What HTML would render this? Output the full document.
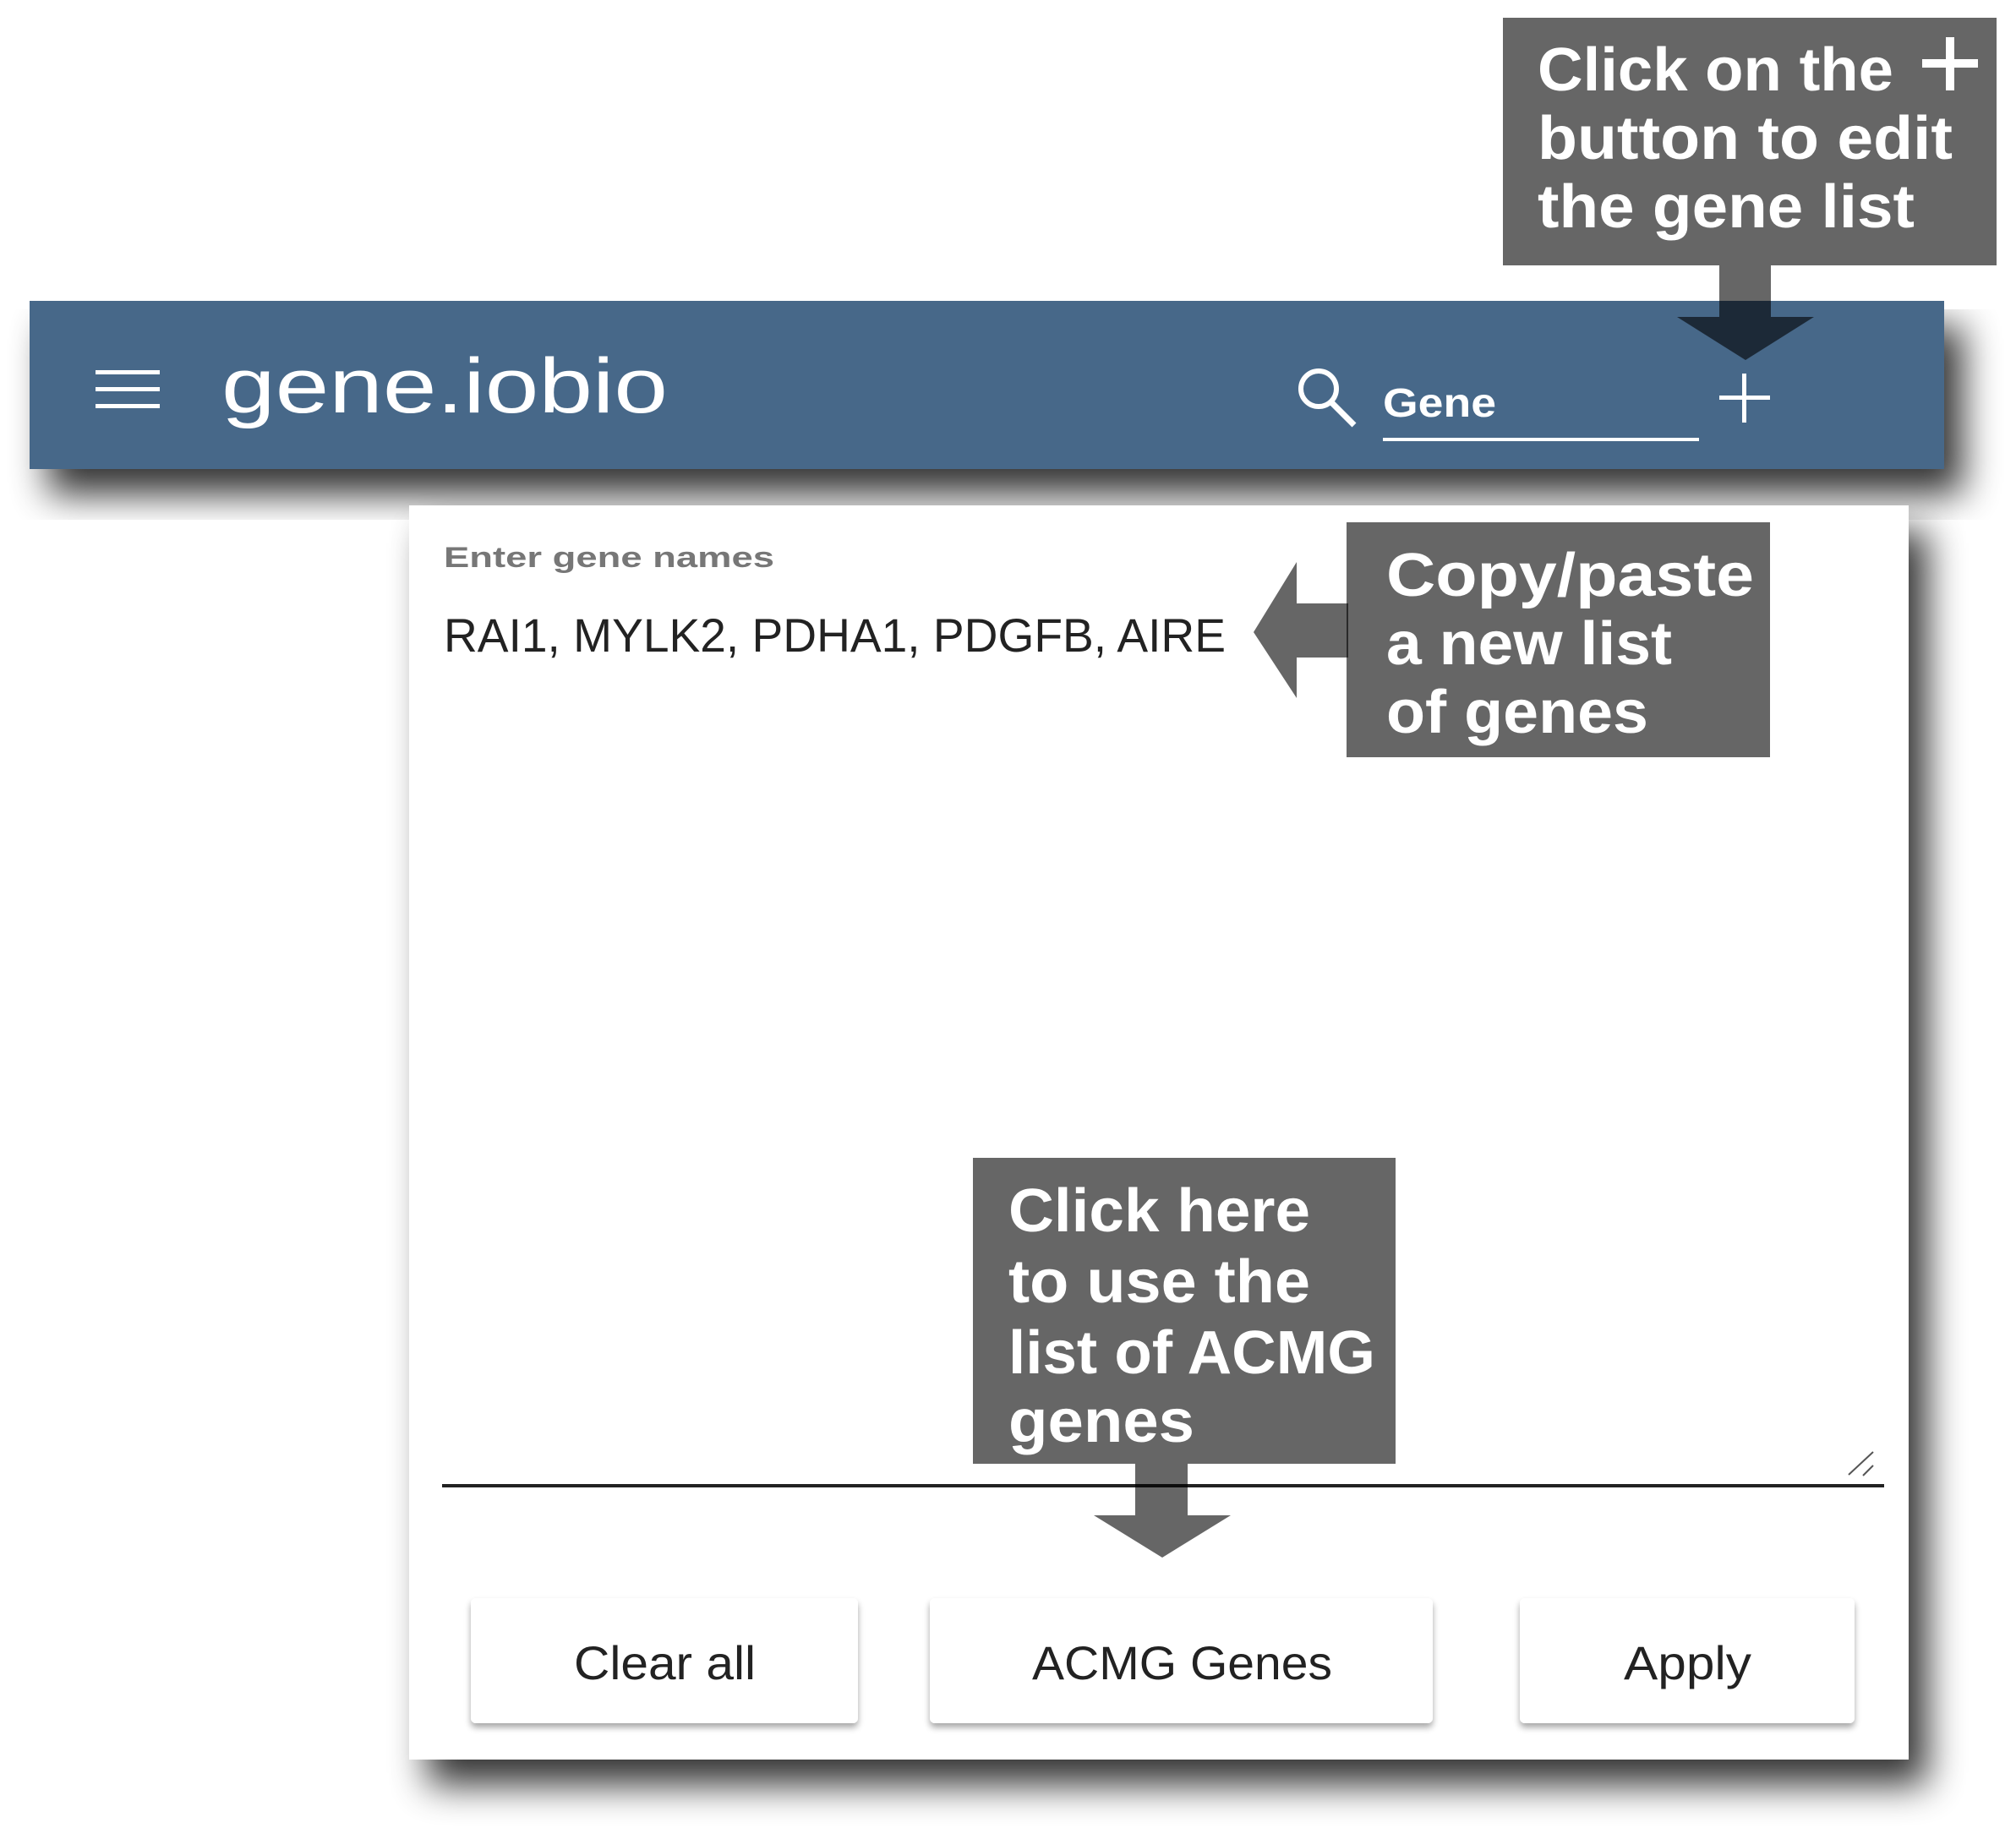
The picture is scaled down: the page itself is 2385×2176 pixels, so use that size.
<!DOCTYPE html>
<html><head><meta charset="utf-8"><style>html,body{margin:0;padding:0;background:#fff}svg{display:block}</style></head>
<body>
<svg width="2385" height="2176" viewBox="0 0 2385 2176" xmlns="http://www.w3.org/2000/svg" font-family="Liberation Sans, sans-serif">
<defs>
<filter id="sh" x="-10%" y="-10%" width="130%" height="140%">
<feGaussianBlur in="SourceAlpha" stdDeviation="22"/>
<feOffset dx="22" dy="30" result="b"/>
<feComponentTransfer><feFuncA type="linear" slope="0.8"/></feComponentTransfer>
<feMerge><feMergeNode/><feMergeNode in="SourceGraphic"/></feMerge>
</filter>
<filter id="bsh" x="-10%" y="-10%" width="120%" height="140%">
<feGaussianBlur in="SourceAlpha" stdDeviation="4"/>
<feOffset dx="0" dy="5"/>
<feComponentTransfer><feFuncA type="linear" slope="0.35"/></feComponentTransfer>
<feMerge><feMergeNode/><feMergeNode in="SourceGraphic"/></feMerge>
</filter>
</defs>

<rect x="35" y="356" width="2265" height="199" fill="#466889" filter="url(#sh)"/>
<g fill="#fff">
<rect x="113" y="438" width="76" height="5"/>
<rect x="113" y="458" width="76" height="5"/>
<rect x="113" y="478" width="76" height="5"/>
</g>
<text x="262" y="488" font-size="92" fill="#fff" textLength="528" lengthAdjust="spacingAndGlyphs">gene.iobio</text>
<circle cx="1560" cy="460" r="21" fill="none" stroke="#fff" stroke-width="6"/>
<line x1="1575" y1="476" x2="1602" y2="503" stroke="#fff" stroke-width="7"/>
<text x="1636" y="493" font-size="48" font-weight="bold" fill="#fff" textLength="134" lengthAdjust="spacingAndGlyphs">Gene</text>
<rect x="1636" y="518" width="374" height="4" fill="#fff"/>
<rect x="2034" y="468" width="60" height="5" fill="#fff"/>
<rect x="2061" y="442" width="5" height="58" fill="#fff"/>

<rect x="484" y="598" width="1774" height="1484" fill="#fff" filter="url(#sh)"/>
<text x="525" y="671" font-size="34" font-weight="bold" fill="#777" textLength="391" lengthAdjust="spacingAndGlyphs">Enter gene names</text>
<text x="525" y="771" font-size="56" fill="#222" textLength="925" lengthAdjust="spacingAndGlyphs">RAI1, MYLK2, PDHA1, PDGFB, AIRE</text>
<rect x="523" y="1756" width="1706" height="4" fill="#222"/>
<line x1="2187" y1="1745" x2="2216" y2="1718" stroke="#555" stroke-width="2"/>
<line x1="2204" y1="1746" x2="2216" y2="1734" stroke="#555" stroke-width="2"/>
<g filter="url(#bsh)">
<rect x="557" y="1891" width="458" height="148" rx="6" fill="#fff"/>
<rect x="1100" y="1891" width="595" height="148" rx="6" fill="#fff"/>
<rect x="1798" y="1891" width="396" height="148" rx="6" fill="#fff"/>
</g>
<g font-size="56" fill="#222">
<text x="679" y="1987" textLength="215" lengthAdjust="spacingAndGlyphs">Clear all</text>
<text x="1221" y="1987" textLength="355" lengthAdjust="spacingAndGlyphs">ACMG Genes</text>
<text x="1921" y="1987" textLength="151" lengthAdjust="spacingAndGlyphs">Apply</text>
</g>

<g fill="rgba(0,0,0,0.6)">
<rect x="1778" y="21" width="584" height="293"/>
<polygon points="2034,314 2095,314 2095,375 2146,375 2065,426 1984,375 2034,375"/>
<rect x="1593" y="618" width="501" height="278"/>
<polygon points="1595,714 1534,714 1534,665 1483,748 1534,826 1534,778 1595,778"/>
<rect x="1151" y="1370" width="500" height="362"/>
<polygon points="1343,1732 1405,1732 1405,1793 1456,1793 1375,1843 1294,1793 1343,1793"/>
</g>
<g fill="#fff" font-size="72" font-weight="bold">
<text x="1819" y="107" textLength="421" lengthAdjust="spacingAndGlyphs">Click on the</text>
<text x="1819" y="188" textLength="491" lengthAdjust="spacingAndGlyphs">button to edit</text>
<text x="1819" y="269" textLength="446" lengthAdjust="spacingAndGlyphs">the gene list</text>
<rect x="2274" y="70" width="66" height="10"/>
<rect x="2302" y="44" width="10" height="63"/>
<text x="1640" y="705" textLength="435" lengthAdjust="spacingAndGlyphs">Copy/paste</text>
<text x="1640" y="786" textLength="338" lengthAdjust="spacingAndGlyphs">a new list</text>
<text x="1640" y="867" textLength="310" lengthAdjust="spacingAndGlyphs">of genes</text>
<text x="1193" y="1457" textLength="357" lengthAdjust="spacingAndGlyphs">Click here</text>
<text x="1193" y="1541" textLength="357" lengthAdjust="spacingAndGlyphs">to use the</text>
<text x="1193" y="1625" textLength="434" lengthAdjust="spacingAndGlyphs">list of ACMG</text>
<text x="1193" y="1706" textLength="220" lengthAdjust="spacingAndGlyphs">genes</text>
</g>
</svg>
</body></html>
